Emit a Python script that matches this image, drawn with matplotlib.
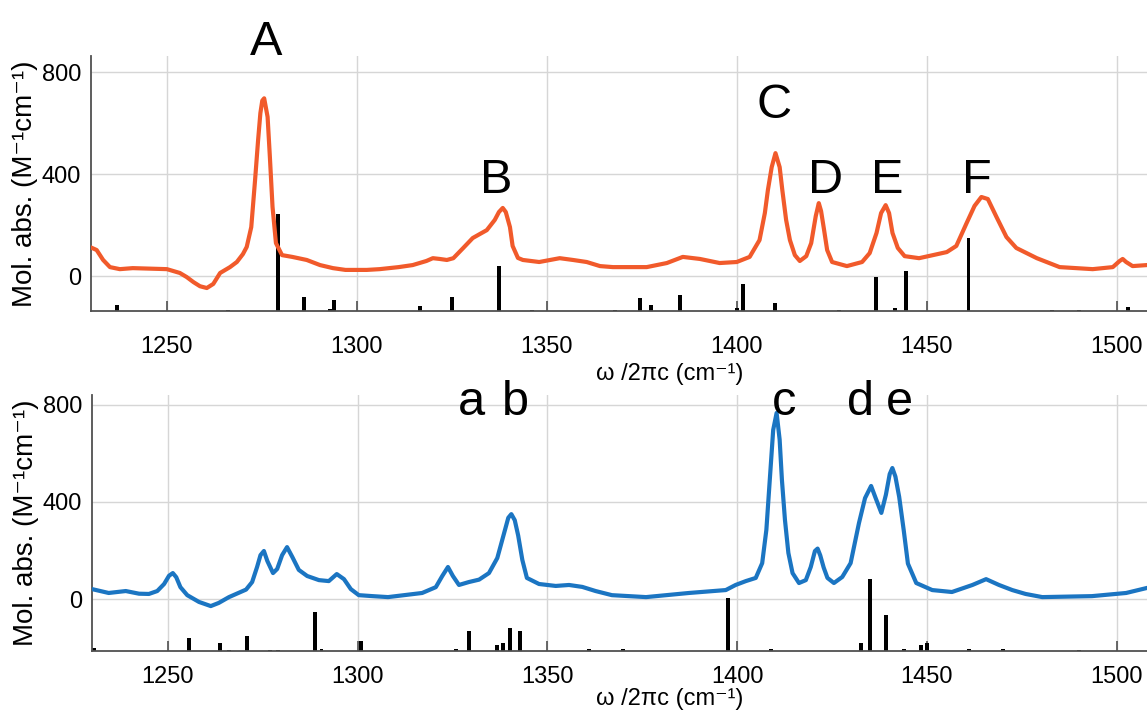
import numpy as np
import matplotlib
matplotlib.use("Agg")
import matplotlib.pyplot as plt

plt.rcParams["font.family"] = ["Liberation Sans", "DejaVu Sans"]

# measured spectrum, top panel (cm-1, M-1cm-1)
top_x = [1230.3, 1231.5, 1233.2, 1235, 1237.6, 1241, 1250, 1253.4, 1255.2, 1257, 1258.7,
         1260.5, 1262.2, 1264, 1266.6, 1268.4, 1270, 1271, 1272.2, 1273.2, 1274, 1274.6,
         1275.1, 1275.6, 1276.5, 1277.1, 1277.8, 1278.7, 1280.3, 1283, 1286.8, 1290.3,
         1293.7, 1297, 1302.6, 1306, 1311, 1314.7, 1318.3, 1320, 1321.8, 1323.7, 1325.4,
         1328, 1330.5, 1332.4, 1334.2, 1336.3, 1337.4, 1338.4, 1339.2, 1340.3, 1341, 1342.4,
         1343.7, 1348, 1353.4, 1356.9, 1360.5, 1364, 1367.4, 1376.3, 1381.6, 1385.8, 1390.3,
         1395.5, 1400, 1403.4, 1406, 1407.4, 1408.2, 1409.2, 1410.2, 1411.3, 1412,
         1413, 1414, 1415.3, 1416.6, 1418.3, 1419.6, 1420.8, 1421.6, 1422.2, 1423, 1423.8,
         1425.1, 1429, 1433, 1435, 1436.8, 1438, 1439.2, 1440.1, 1441, 1442.4, 1444.2,
         1448, 1455.3, 1457.8, 1460.4, 1462.6, 1464.4, 1466.1, 1468.4, 1471, 1473.6, 1479,
         1485, 1493.7, 1499, 1500.8, 1501.6, 1502.5, 1504.2, 1508]
top_y = [110, 102, 63, 35, 27, 31, 27, 12, -4, -24, -40,
         -47, -31, 12, 35, 55, 86, 114, 192, 376, 533, 639,
         688, 697, 624, 467, 271, 129, 82, 75, 63, 43,
         31, 24, 24, 27, 35, 43, 59, 70, 67, 63, 70,
         110, 149, 165, 180, 220, 251, 267, 251, 192, 118, 71,
         63, 55, 70, 63, 55, 39, 35, 35, 51, 75, 67,
         51, 55, 75, 141, 247, 337, 427, 482, 427, 337,
         220, 141, 82, 59, 78, 129, 235, 286, 255, 180, 102,
         55, 39, 55, 90, 169, 247, 278, 247, 169, 110, 78,
         70, 94, 118, 204, 275, 310, 302, 231, 153, 110, 70,
         35, 27, 35, 59, 67, 55, 39, 43]

# calculated modes, top panel (position, stick top)
top_stick_x = [1236.8, 1266, 1279.3, 1286, 1293, 1294, 1316.6, 1325, 1337.4, 1346, 1368,
               1374.5, 1377.4, 1385, 1400, 1401.6, 1410, 1427, 1436.6, 1441.6, 1444.5,
               1461, 1483, 1490, 1503]
top_stick_y = [-114, -133, 243, -82, -128, -94, -118, -82, 39, -133, -133,
               -86, -114, -75, -125, -31, -106, -133, -4, -125, 20,
               149, -133, -133, -122]

# measured spectrum, bottom panel
bot_x = [1230, 1234.4, 1238.9, 1242.4, 1245, 1247.2, 1249, 1250.3, 1251.3, 1252.2, 1253.3,
         1255.1, 1258.2, 1261.3, 1263.4, 1266.1, 1270.6, 1272.2, 1273.5, 1274.4, 1275.3,
         1276.2, 1277.7, 1278.8, 1280.1, 1281.4, 1282.8, 1284.5, 1286.7, 1289.8, 1292.4,
         1294.5, 1296.4, 1298.2, 1300.3, 1303.9, 1308, 1317, 1320.6, 1322.3, 1323.8, 1325.1,
         1326.7, 1329.3, 1332, 1334.6, 1336.8, 1338.6, 1339.7, 1340.5, 1341.4, 1342.3,
         1343.4, 1344.6, 1347.8, 1352.2, 1355.7, 1359.2, 1362.7, 1367, 1376, 1387.3, 1397,
         1399.6, 1402.3, 1404.9, 1406.6, 1407.7, 1408.6, 1409.5, 1410.4, 1411.2, 1411.8,
         1412.6, 1413.5, 1414.6, 1416.3, 1418.1, 1419.4, 1420.5, 1421.2, 1421.9, 1422.8,
         1423.8, 1425.5, 1427.7, 1429.9, 1432.1, 1433.7, 1435.3, 1436.5, 1438, 1439.2,
         1440.2, 1440.9, 1441.7, 1442.7, 1443.9, 1445, 1447.2, 1451.4, 1456.6, 1462, 1465.6,
         1469, 1472.5, 1476, 1480.4, 1493.5, 1502.5, 1507.8]
bot_y = [41, 25, 33, 22, 21, 33, 62, 96, 107, 90, 49,
         16, -12, -29, -16, 8, 39, 70, 132, 181, 198,
         157, 107, 124, 181, 214, 173, 120, 95, 78, 74,
         103, 82, 41, 16, 12, 8, 25, 49, 95, 132, 95,
         58, 70, 80, 107, 169, 272, 335, 350, 325, 262,
         161, 87, 62, 54, 58, 50, 33, 16, 8, 25, 37,
         58, 74, 87, 148, 285, 491, 697, 767, 657, 491,
         326, 190, 107, 66, 78, 132, 198, 208, 180, 130,
         87, 66, 91, 148, 313, 416, 466, 416, 355, 430,
         515, 540, 505, 421, 283, 146, 66, 37, 29, 58, 82,
         58, 37, 21, 8, 12, 25, 45]

bot_stick_x = [1230.5, 1255.5, 1263.7, 1266, 1270.8, 1277, 1279, 1288.7, 1290.5, 1300.9,
               1326, 1329.3, 1336.7, 1338.3, 1340.1, 1342.8, 1361, 1370, 1397.6, 1409,
               1432.6, 1435, 1439.2, 1444, 1448.5, 1450, 1461, 1470, 1490]
bot_stick_y = [-202, -161, -181, -208, -153, -210, -210, -54, -205, -173,
               -205, -132, -190, -181, -120, -132, -205, -205, 4, -205,
               -181, 82, -66, -205, -190, -181, -205, -204, -208]

top_labels = ["A", "B", "C", "D", "E", "F"]
top_label_x = [1276, 1336.8, 1409.7, 1423.4, 1439.7, 1463.2]
top_label_y = [867, 325, 620, 325, 325, 325]

bot_labels = ["a", "b", "c", "d", "e"]
bot_label_x = [1330, 1341.5, 1412.3, 1432.4, 1442.7]
bot_label_y = [757, 757, 757, 757, 757]

xticks = [1250, 1300, 1350, 1400, 1450, 1500]
yticks = [0, 400, 800]
xlabel = "ω /2πc (cm⁻¹)"
ylabel = "Mol. abs. (M⁻¹cm⁻¹)"


def style_axes(ax, ylim, tickpad, xlabel_y):
    ax.set_xlim(1230, 1508)
    ax.set_ylim(*ylim)
    ax.set_xticks(xticks)
    ax.set_yticks(yticks)
    ax.grid(True, color="#d6d6d6", linewidth=1.0)
    ax.set_axisbelow(True)
    for side in ["top", "right"]:
        ax.spines[side].set_visible(False)
    for side in ["left", "bottom"]:
        ax.spines[side].set_color("#505050")
        ax.spines[side].set_linewidth(1.3)
    ax.tick_params(axis="x", direction="in", length=7, width=1.2, color="#505050",
                   labelsize=17, pad=tickpad)
    ax.tick_params(axis="y", length=0, labelsize=17, pad=7)
    ax.set_xlabel(xlabel, fontsize=17)
    ax.xaxis.set_label_coords(0.548, xlabel_y)
    ax.set_ylabel(ylabel, fontsize=20)
    ax.yaxis.set_label_coords(-0.05, 0.5)


fig = plt.figure(figsize=(11.47, 7.17), dpi=100)

# top panel
ax1 = fig.add_axes([0.0793, 0.5663, 0.9207, 0.3556])
ylim1 = (-137, 863)
ax1.bar(top_stick_x, np.array(top_stick_y) - ylim1[0], bottom=ylim1[0], width=1.0,
        color="black", zorder=2)
ax1.plot(top_x, top_y, color="#f15a2b", linewidth=3, zorder=3, solid_joinstyle="round")
style_axes(ax1, ylim1, 18, -0.204)
for lab, lx, ly in zip(top_labels, top_label_x, top_label_y):
    ax1.text(lx, ly, lab, fontsize=35, ha="center", va="baseline", clip_on=False)

# bottom panel
ax2 = fig.add_axes([0.0802, 0.0921, 0.9198, 0.357])
ylim2 = (-214, 841)
ax2.bar(bot_stick_x, np.array(bot_stick_y) - ylim2[0], bottom=ylim2[0], width=1.0,
        color="black", zorder=2)
ax2.plot(bot_x, bot_y, color="#1b75c2", linewidth=3, zorder=3, solid_joinstyle="round")
style_axes(ax2, ylim2, 11, -0.1445)
for lab, lx, ly in zip(bot_labels, bot_label_x, bot_label_y):
    ax2.text(lx, ly, lab, fontsize=35, ha="center", va="baseline", clip_on=False)

fig.savefig("out.png", dpi=100)
